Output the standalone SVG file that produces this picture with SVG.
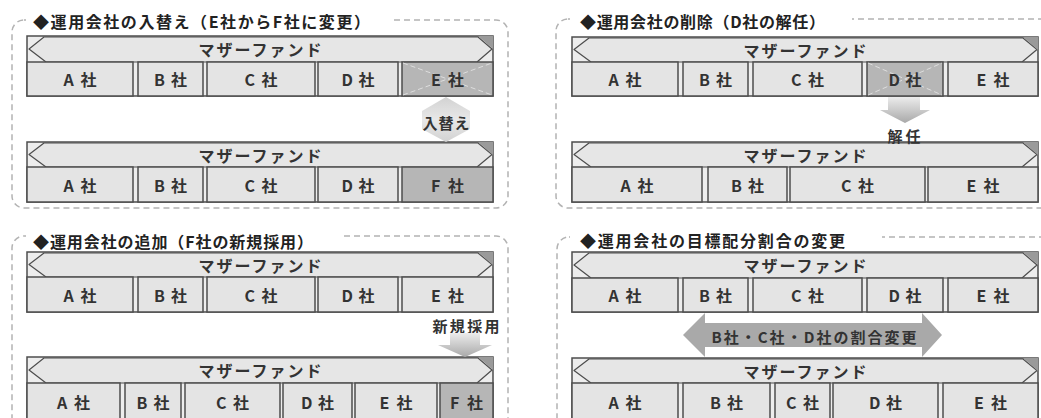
<svg xmlns="http://www.w3.org/2000/svg" width="1041" height="418" viewBox="0 0 1041 418">
<defs>
<style>
.panel{fill:none;stroke:#b3b3b3;stroke-width:1.5;stroke-dasharray:6 4}
.mask{fill:#fff}
.bar{fill:#ededed;stroke:#4d4d4d;stroke-width:1.5}
.arw{fill:#e6e6e6;stroke:#4d4d4d;stroke-width:1.2;stroke-linejoin:round}
.tri{fill:#9a9a9a}
.box{fill:#e4e4e4;stroke:#4d4d4d;stroke-width:1.5}
.gbox{fill:#b6b6b6;stroke:#4d4d4d;stroke-width:1.5}
.x{stroke:#dedede;stroke-width:1;stroke-dasharray:5 3}
text{font-family:"Noto Sans CJK JP","Noto Sans CJK SC",sans-serif;font-weight:bold;fill:#333}
.ttl{font-size:16px;fill:#222;dominant-baseline:central}
.lbl{font-size:16px;text-anchor:middle;dominant-baseline:central}
.mf{font-size:16px;text-anchor:middle;dominant-baseline:central}
.note{font-size:15px;text-anchor:middle;dominant-baseline:central}
</style>
<linearGradient id="gdown" x1="0" y1="0" x2="0" y2="1">
<stop offset="0" stop-color="#ececec"/>
<stop offset="1" stop-color="#a9a9a9"/>
</linearGradient>
<linearGradient id="gswap" x1="0" y1="0" x2="0" y2="1">
<stop offset="0" stop-color="#d2d2d2"/>
<stop offset="0.5" stop-color="#e8e8e8"/>
<stop offset="1" stop-color="#d2d2d2"/>
</linearGradient>
</defs>
<rect width="1041" height="418" fill="#fff"/>

<!-- Panel 1: replacement -->
<g id="panel-replace">
<rect class="panel" x="12" y="20" width="496" height="188" rx="12"/>
<rect class="mask" x="26" y="8" width="364" height="24"/>
<text class="ttl" x="33" y="21" textLength="337" lengthAdjust="spacing">◆運用会社の入替え（E社からF社に変更）</text>
</g>
<g id="p1-before">
<rect class="bar" x="27" y="36" width="466" height="60"/>
<polygon class="arw" points="29,49 44,37 478,37 492,49 477,62 46,62"/>
<polygon class="tri" points="478,36 493,36 493,49"/>
<text class="mf" x="260" y="49" textLength="123" lengthAdjust="spacing">マザーファンド</text>
<rect class="box" x="27" y="62" width="106" height="34"/>
<rect class="box" x="138" y="62" width="65" height="34"/>
<rect class="box" x="207" y="62" width="108" height="34"/>
<rect class="box" x="318" y="62" width="80" height="34"/>
<rect class="gbox" x="402" y="62" width="91" height="34"/>
<line class="x" x1="403" y1="63" x2="492" y2="95"/>
<line class="x" x1="403" y1="95" x2="492" y2="63"/>
<text class="lbl" x="80" y="79" textLength="33" lengthAdjust="spacing">A社</text>
<text class="lbl" x="170.5" y="79" textLength="33" lengthAdjust="spacing">B社</text>
<text class="lbl" x="261" y="79" textLength="33" lengthAdjust="spacing">C社</text>
<text class="lbl" x="358" y="79" textLength="33" lengthAdjust="spacing">D社</text>
<text class="lbl" x="447.5" y="79" textLength="33" lengthAdjust="spacing">E社</text>
</g>
<g id="p1-after">
<rect class="bar" x="27" y="142" width="466" height="60"/>
<polygon class="arw" points="29,154.5 44,143 478,143 492,154.5 477,167 46,167"/>
<polygon class="tri" points="478,142 493,142 493,155"/>
<text class="mf" x="260" y="154.5" textLength="123" lengthAdjust="spacing">マザーファンド</text>
<rect class="box" x="27" y="167" width="106" height="35"/>
<rect class="box" x="138" y="167" width="65" height="35"/>
<rect class="box" x="207" y="167" width="108" height="35"/>
<rect class="box" x="318" y="167" width="80" height="35"/>
<rect class="gbox" x="402" y="167" width="91" height="35"/>
<text class="lbl" x="80" y="184.5" textLength="33" lengthAdjust="spacing">A社</text>
<text class="lbl" x="170.5" y="184.5" textLength="33" lengthAdjust="spacing">B社</text>
<text class="lbl" x="261" y="184.5" textLength="33" lengthAdjust="spacing">C社</text>
<text class="lbl" x="358" y="184.5" textLength="33" lengthAdjust="spacing">D社</text>
<text class="lbl" x="447.5" y="184.5" textLength="33" lengthAdjust="spacing">F社</text>
</g>

<!-- Panel 2: removal -->
<g id="panel-remove">
<rect class="panel" x="556" y="19" width="530" height="189" rx="12"/>
<rect class="mask" x="570" y="7" width="282" height="24"/>
<text class="ttl" x="580" y="21" textLength="245" lengthAdjust="spacing">◆運用会社の削除（D社の解任）</text>
</g>
<g id="p2-before">
<rect class="bar" x="572" y="37" width="466" height="59"/>
<polygon class="arw" points="574,49.5 589,38 1023,38 1037,49.5 1022,62 591,62"/>
<polygon class="tri" points="1023,37 1038,37 1038,50"/>
<text class="mf" x="805" y="49.5" textLength="123" lengthAdjust="spacing">マザーファンド</text>
<rect class="box" x="572" y="62" width="106" height="34"/>
<rect class="box" x="683" y="62" width="65" height="34"/>
<rect class="box" x="753" y="62" width="109" height="34"/>
<rect class="gbox" x="867" y="62" width="76" height="34"/>
<line class="x" x1="868" y1="63" x2="942" y2="95"/>
<line class="x" x1="868" y1="95" x2="942" y2="63"/>
<rect class="box" x="948" y="62" width="90" height="34"/>
<text class="lbl" x="625" y="79" textLength="33" lengthAdjust="spacing">A社</text>
<text class="lbl" x="715.5" y="79" textLength="33" lengthAdjust="spacing">B社</text>
<text class="lbl" x="807.5" y="79" textLength="33" lengthAdjust="spacing">C社</text>
<text class="lbl" x="905" y="79" textLength="33" lengthAdjust="spacing">D社</text>
<text class="lbl" x="993" y="79" textLength="33" lengthAdjust="spacing">E社</text>
</g>
<g id="p2-after">
<rect class="bar" x="572" y="142" width="466" height="60"/>
<polygon class="arw" points="574,154.5 589,143 1023,143 1037,154.5 1022,167 591,167"/>
<polygon class="tri" points="1023,142 1038,142 1038,155"/>
<text class="mf" x="805" y="154.5" textLength="123" lengthAdjust="spacing">マザーファンド</text>
<rect class="box" x="572" y="167" width="130" height="35"/>
<rect class="box" x="708" y="167" width="79" height="35"/>
<rect class="box" x="790" y="167" width="135" height="35"/>
<rect class="box" x="928" y="167" width="110" height="35"/>
<text class="lbl" x="637" y="184.5" textLength="33" lengthAdjust="spacing">A社</text>
<text class="lbl" x="747.5" y="184.5" textLength="33" lengthAdjust="spacing">B社</text>
<text class="lbl" x="857.5" y="184.5" textLength="33" lengthAdjust="spacing">C社</text>
<text class="lbl" x="983" y="184.5" textLength="33" lengthAdjust="spacing">E社</text>
</g>

<!-- Panel 3: addition -->
<g id="panel-add">
<rect class="panel" x="12" y="236" width="496" height="220" rx="12"/>
<rect class="mask" x="26" y="226" width="316" height="24"/>
<text class="ttl" x="33" y="241" textLength="280" lengthAdjust="spacing">◆運用会社の追加（F社の新規採用）</text>
</g>
<g id="p3-before">
<rect class="bar" x="27" y="252" width="466" height="60"/>
<polygon class="arw" points="29,264.5 44,253 478,253 492,264.5 477,277 46,277"/>
<polygon class="tri" points="478,252 493,252 493,265"/>
<text class="mf" x="260" y="264.5" textLength="123" lengthAdjust="spacing">マザーファンド</text>
<rect class="box" x="27" y="277" width="106" height="35"/>
<rect class="box" x="138" y="277" width="65" height="35"/>
<rect class="box" x="207" y="277" width="108" height="35"/>
<rect class="box" x="318" y="277" width="80" height="35"/>
<rect class="box" x="402" y="277" width="91" height="35"/>
<text class="lbl" x="80" y="294.5" textLength="33" lengthAdjust="spacing">A社</text>
<text class="lbl" x="170.5" y="294.5" textLength="33" lengthAdjust="spacing">B社</text>
<text class="lbl" x="261" y="294.5" textLength="33" lengthAdjust="spacing">C社</text>
<text class="lbl" x="358" y="294.5" textLength="33" lengthAdjust="spacing">D社</text>
<text class="lbl" x="447.5" y="294.5" textLength="33" lengthAdjust="spacing">E社</text>
</g>
<g id="p3-after">
<rect class="bar" x="27" y="357" width="466" height="70"/>
<polygon class="arw" points="29,370 44,358 478,358 492,370 477,383 46,383"/>
<polygon class="tri" points="478,357 493,357 493,370"/>
<text class="mf" x="260" y="370" textLength="123" lengthAdjust="spacing">マザーファンド</text>
<rect class="box" x="27" y="383" width="93" height="44"/>
<rect class="box" x="125" y="383" width="56" height="44"/>
<rect class="box" x="185" y="383" width="95" height="44"/>
<rect class="box" x="283" y="383" width="69" height="44"/>
<rect class="box" x="355" y="383" width="82" height="44"/>
<rect class="gbox" x="440" y="383" width="53" height="44"/>
<text class="lbl" x="73.5" y="402" textLength="33" lengthAdjust="spacing">A社</text>
<text class="lbl" x="153" y="402" textLength="33" lengthAdjust="spacing">B社</text>
<text class="lbl" x="232.5" y="402" textLength="33" lengthAdjust="spacing">C社</text>
<text class="lbl" x="317.5" y="402" textLength="33" lengthAdjust="spacing">D社</text>
<text class="lbl" x="396" y="402" textLength="33" lengthAdjust="spacing">E社</text>
<text class="lbl" x="466.5" y="402" textLength="33" lengthAdjust="spacing">F社</text>
</g>

<!-- Panel 4: allocation change -->
<g id="panel-ratio">
<rect class="panel" x="557" y="237" width="530" height="220" rx="12"/>
<rect class="mask" x="570" y="226" width="312" height="24"/>
<text class="ttl" x="580" y="240" textLength="265" lengthAdjust="spacing">◆運用会社の目標配分割合の変更</text>
</g>
<g id="p4-before">
<rect class="bar" x="572" y="252" width="466" height="60"/>
<polygon class="arw" points="574,265 589,253 1023,253 1037,265 1022,278 591,278"/>
<polygon class="tri" points="1023,252 1038,252 1038,265"/>
<text class="mf" x="805" y="265" textLength="123" lengthAdjust="spacing">マザーファンド</text>
<rect class="box" x="572" y="278" width="106" height="34"/>
<rect class="box" x="683" y="278" width="65" height="34"/>
<rect class="box" x="753" y="278" width="109" height="34"/>
<rect class="box" x="867" y="278" width="76" height="34"/>
<rect class="box" x="948" y="278" width="90" height="34"/>
<text class="lbl" x="625" y="295" textLength="33" lengthAdjust="spacing">A社</text>
<text class="lbl" x="715.5" y="295" textLength="33" lengthAdjust="spacing">B社</text>
<text class="lbl" x="807.5" y="295" textLength="33" lengthAdjust="spacing">C社</text>
<text class="lbl" x="905" y="295" textLength="33" lengthAdjust="spacing">D社</text>
<text class="lbl" x="993" y="295" textLength="33" lengthAdjust="spacing">E社</text>
</g>
<g id="p4-after">
<rect class="bar" x="572" y="358" width="466" height="69"/>
<polygon class="arw" points="574,370.5 589,359 1023,359 1037,370.5 1022,383 591,383"/>
<polygon class="tri" points="1023,358 1038,358 1038,371"/>
<text class="mf" x="805" y="370.5" textLength="123" lengthAdjust="spacing">マザーファンド</text>
<rect class="box" x="572" y="383" width="106" height="44"/>
<rect class="box" x="683" y="383" width="87" height="44"/>
<rect class="box" x="775" y="383" width="55" height="44"/>
<rect class="box" x="833" y="383" width="105" height="44"/>
<rect class="box" x="943" y="383" width="95" height="44"/>
<text class="lbl" x="625" y="402" textLength="33" lengthAdjust="spacing">A社</text>
<text class="lbl" x="726.5" y="402" textLength="33" lengthAdjust="spacing">B社</text>
<text class="lbl" x="802.5" y="402" textLength="33" lengthAdjust="spacing">C社</text>
<text class="lbl" x="885.5" y="402" textLength="33" lengthAdjust="spacing">D社</text>
<text class="lbl" x="990.5" y="402" textLength="33" lengthAdjust="spacing">E社</text>
</g>

<!-- Connectors (change arrows) -->
<g id="connectors">
<polygon points="446,97 470,111 470,129 446,142 422,129 422,111" fill="url(#gswap)"/>
<text class="note" x="446" y="122" textLength="47" lengthAdjust="spacing">入替え</text>
<polygon points="888,97 920,97 920,110 930,110 905,123 880,110 888,110" fill="url(#gdown)"/>
<text class="note" x="904" y="135" textLength="33" lengthAdjust="spacing">解任</text>
<text class="note" x="466" y="325" textLength="67" lengthAdjust="spacing">新規採用</text>
<polygon points="450,333 480,333 480,345 492,345 465,357 438,345 450,345" fill="url(#gdown)"/>
<polygon points="683,335 705,313 705,323 922,323 922,313 942,335 922,357 922,347 705,347 705,357" fill="#a9a9a9"/>
<text class="note" x="814" y="336" textLength="205" lengthAdjust="spacing">B社・C社・D社の割合変更</text>
</g>
</svg>
